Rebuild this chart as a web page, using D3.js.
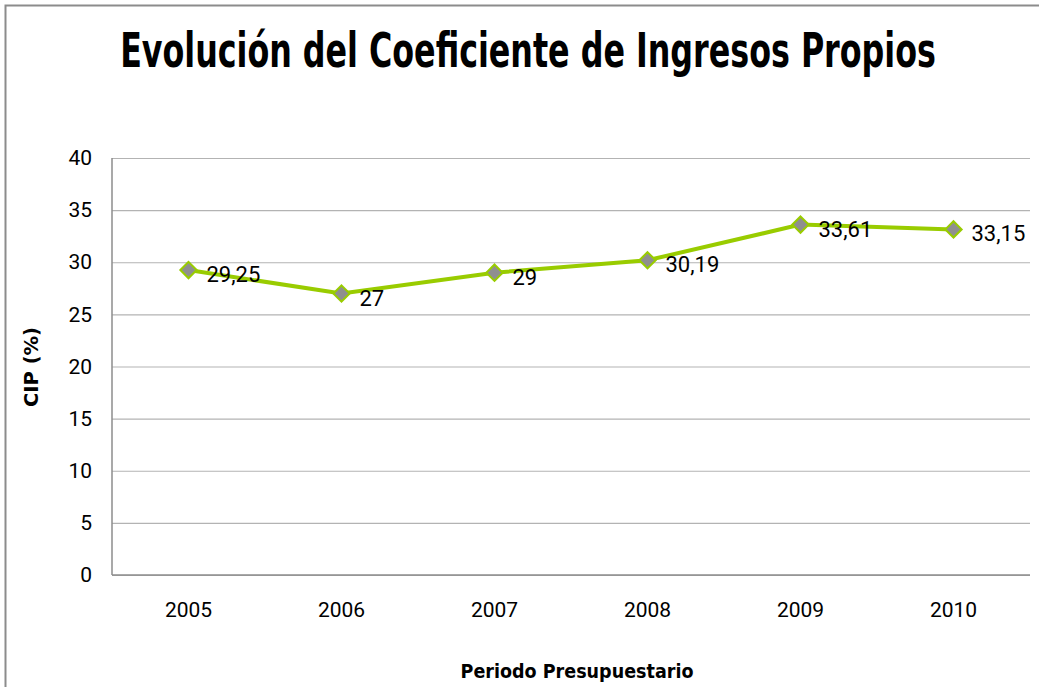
<!DOCTYPE html>
<html>
<head>
<meta charset="utf-8">
<script src="https://cdn.jsdelivr.net/npm/d3@7"></script>
<style>
  body { margin: 0; background: #fff; }
  svg { display: block; }
</style>
</head>
<body>
<div id="chart-area"></div>
<script>
// chart data
var years = ["2005", "2006", "2007", "2008", "2009", "2010"];
var cipValues = [29.25, 27, 29, 30.19, 33.61, 33.15];
var pointLabels = ["29,25", "27", "29", "30,19", "33,61", "33,15"];
var yTicks = [0, 5, 10, 15, 20, 25, 30, 35, 40];

var W = 1039, H = 687;
var margin = { left: 112, right: 9, top: 158, bottom: 112 };
var width = W - margin.left - margin.right;
var height = H - margin.top - margin.bottom;

var svg = d3.select("#chart-area")
  .append("svg")
  .attr("width", W)
  .attr("height", H);

// outer frame (bottom/right cut off)
svg.append("path")
  .attr("d", "M5.5,690 L5.5,5.5 L1045,5.5")
  .attr("fill", "none")
  .attr("stroke", "#8c8c8c")
  .attr("stroke-width", 2);

// squeeze a bold text horizontally so it fits a given width (narrow font look)
function narrowText(sel, cx, cy, targetW, rotate) {
  var w = sel.node().getComputedTextLength();
  var sx = targetW / w;
  var tr = "translate(" + cx + "," + cy + ")";
  if (rotate) tr += " rotate(-90)";
  sel.attr("transform", tr + " scale(" + sx + ",1)");
}

var title = svg.append("text")
  .attr("text-anchor", "middle")
  .attr("font-family", "DejaVu Sans Condensed, sans-serif")
  .attr("font-weight", "bold")
  .attr("font-size", "48px")
  .text("Evolución del Coeficiente de Ingresos Propios");
narrowText(title, 528, 67, 816);

var g = svg.append("g")
  .attr("transform", "translate(" + margin.left + "," + margin.top + ")");

var x = d3.scaleBand()
  .domain(years)
  .range([0, width]);

var y = d3.scaleLinear()
  .domain([0, 40])
  .range([height, 0]);

// gridlines
g.append("g")
  .attr("class", "grid")
  .call(d3.axisLeft(y).tickValues(yTicks).tickSize(-width).tickFormat(""))
  .call(function (s) {
    s.select(".domain").remove();
    s.selectAll("line").attr("stroke", "#b3b3b3").attr("stroke-width", 1.2);
  });

// y axis labels
var yAxis = g.append("g")
  .call(d3.axisLeft(y).tickValues(yTicks).tickSize(0).tickPadding(20));
yAxis.select(".domain").remove();
yAxis.selectAll("text")
  .attr("font-family", "Roboto, sans-serif")
  .attr("font-size", "21px")
  .attr("fill", "#000");

// x axis labels
var xAxis = g.append("g")
  .attr("transform", "translate(0," + height + ")")
  .call(d3.axisBottom(x).tickSize(0).tickPadding(27));
xAxis.select(".domain").remove();
xAxis.selectAll("text")
  .attr("font-family", "Roboto, sans-serif")
  .attr("font-size", "21px")
  .attr("fill", "#000");

// plot axes lines
g.append("line")
  .attr("x1", 0).attr("x2", 0)
  .attr("y1", 0).attr("y2", height)
  .attr("stroke", "#8c8c8c").attr("stroke-width", 1.5);
g.append("line")
  .attr("x1", 0).attr("x2", width)
  .attr("y1", height).attr("y2", height)
  .attr("stroke", "#8c8c8c").attr("stroke-width", 1.5);

var cx = function (d, i) { return x(years[i]) + x.bandwidth() / 2; };

var line = d3.line()
  .x(function (d, i) { return cx(d, i); })
  .y(function (d) { return y(d); });

g.append("path")
  .datum(cipValues)
  .attr("d", line)
  .attr("fill", "none")
  .attr("stroke", "#99cc00")
  .attr("stroke-width", 4);

g.selectAll(".pt")
  .data(cipValues)
  .enter()
  .append("path")
  .attr("class", "pt")
  .attr("d", d3.symbol().type(d3.symbolDiamond2).size(170))
  .attr("transform", function (d, i) { return "translate(" + cx(d, i) + "," + y(d) + ")"; })
  .attr("fill", "#8f8f8f")
  .attr("stroke", "#99cc00")
  .attr("stroke-width", 2);

g.selectAll(".lbl")
  .data(cipValues)
  .enter()
  .append("text")
  .attr("class", "lbl")
  .attr("x", function (d, i) { return cx(d, i) + 18; })
  .attr("y", function (d) { return y(d) + 12; })
  .attr("font-family", "Roboto, sans-serif")
  .attr("font-size", "22px")
  .text(function (d, i) { return pointLabels[i]; });

// axis titles
var xTitle = svg.append("text")
  .attr("text-anchor", "middle")
  .attr("font-family", "DejaVu Sans Condensed, sans-serif")
  .attr("font-weight", "bold")
  .attr("font-size", "19px")
  .text("Periodo Presupuestario");
narrowText(xTitle, 577, 678, 233);

var yTitle = svg.append("text")
  .attr("text-anchor", "middle")
  .attr("font-family", "DejaVu Sans Condensed, sans-serif")
  .attr("font-weight", "bold")
  .attr("font-size", "19px")
  .text("CIP (%)");
narrowText(yTitle, 38, 367, 80, true);
</script>
</body>
</html>
